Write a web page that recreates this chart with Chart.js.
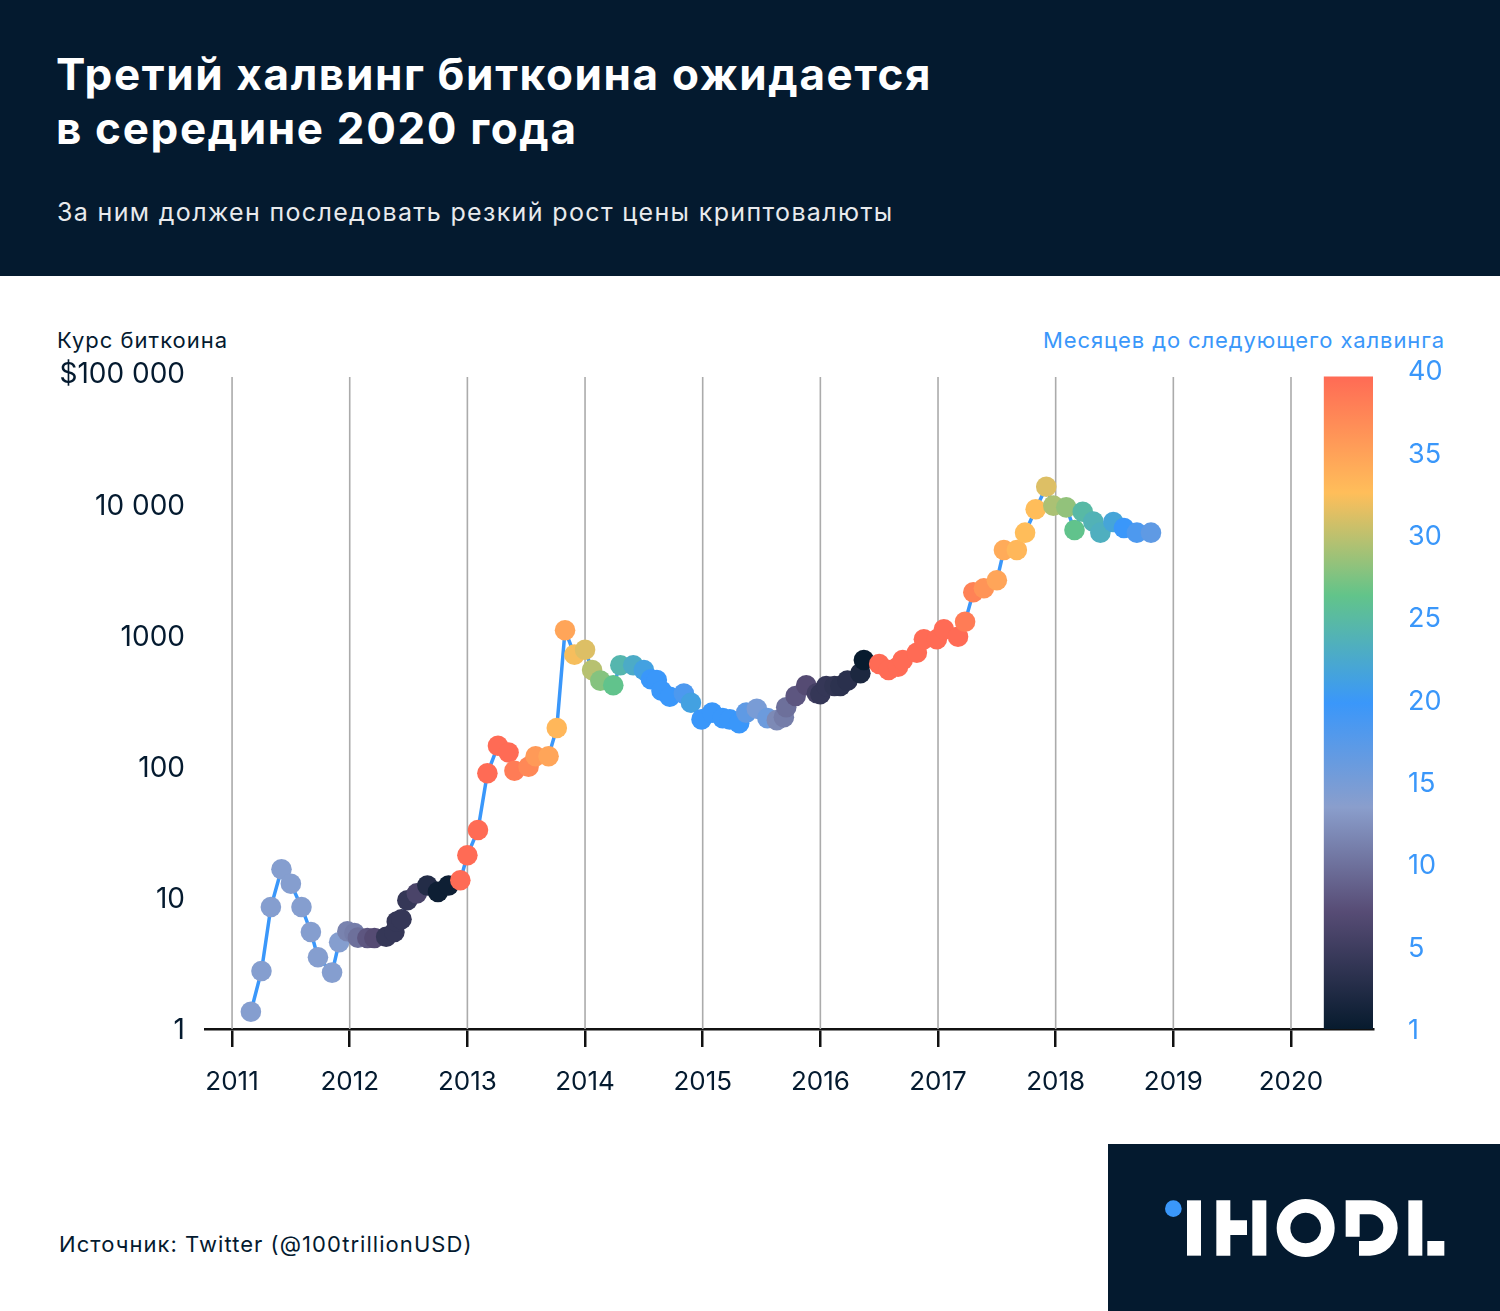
<!DOCTYPE html>
<html lang="ru">
<head>
<meta charset="utf-8">
<title>Третий халвинг биткоина</title>
<script src="https://cdn.jsdelivr.net/npm/chart.js@4"></script>
<style>
    html, body { margin: 0; padding: 0; background: #fff; }
    body { position: relative; width: 1500px; height: 1311px; overflow: hidden; font-family: Inter, sans-serif; }
    .header { position: absolute; left: 0; top: 0; width: 1500px; height: 276px; background: #041a2f; }
    .txt { position: absolute; white-space: nowrap; }
    .title { left: 56px; top: 47px; font-size: 44px; font-weight: 700; line-height: 54px; color: #fff; letter-spacing: 1.65px; }
    .subtitle { left: 57px; top: 197px; font-size: 25px; line-height: 30px; color: #e8eaed; letter-spacing: 1.35px; }
    .axis-left { left: 57px; top: 327px; font-size: 22px; line-height: 26px; color: #041a2f; letter-spacing: 1px; }
    .axis-right { right: 55px; top: 327px; font-size: 22px; line-height: 26px; color: #3a97fa; letter-spacing: 0.9px; }
    .source { left: 59px; top: 1231px; font-size: 22px; line-height: 26px; color: #041a2f; letter-spacing: 1.05px; }
    #chartBox { position: absolute; left: 0; top: 276px; width: 1500px; height: 850px; }
    .logo { position: absolute; left: 1100px; top: 1140px; }
</style>
</head>
<body>
<div class="header"></div>
<div class="txt title">Третий халвинг биткоина ожидается<br>в середине 2020 года</div>
<div class="txt subtitle">За ним должен последовать резкий рост цены криптовалюты</div>
<div class="txt axis-left">Курс биткоина</div>
<div class="txt axis-right">Месяцев до следующего халвинга</div>
<div id="chartBox"><canvas id="halvingChart" width="1500" height="850"></canvas></div>
<div class="txt source">Источник: Twitter (@100trillionUSD)</div>
<svg class="logo" width="400" height="171" viewBox="0 0 1200 513">
    <rect x="24" y="12" width="1176" height="501" fill="#041a2f"/>
    <circle cx="220" cy="206" r="25" fill="#3a97fa"/>
    <g fill="#fff">
        <rect x="261" y="181" width="42" height="166"/>
        <path d="M349 181H391V241H441V285H391V347H349Z"/>
        <rect x="457" y="181" width="42" height="166"/>
        <path fill-rule="evenodd" d="M617 177a87 87 0 1 0 .01 0ZM617 218a46 46 0 1 1 -.01 0Z"/>
        <path d="M737 181H810A83 83 0 0 1 810 347H777V303H810A40 40 0 0 0 810 223H779V290H737Z"/>
        <rect x="925" y="181" width="42" height="166"/>
        <rect x="982" y="303" width="51" height="44"/>
    </g>
</svg>

<script>
// Data
const dates = [
    2011.16, 2011.25, 2011.33, 2011.42, 2011.50, 2011.59, 2011.67, 2011.73, 2011.85, 2011.91,
    2011.98, 2012.04, 2012.07, 2012.15, 2012.21, 2012.31, 2012.38, 2012.40, 2012.44, 2012.49,
    2012.57, 2012.66, 2012.75, 2012.84, 2012.94, 2013.00, 2013.09, 2013.17, 2013.26, 2013.35,
    2013.40, 2013.52, 2013.58, 2013.69, 2013.76, 2013.83, 2013.91, 2014.00, 2014.06, 2014.13,
    2014.24, 2014.30, 2014.41, 2014.50, 2014.56, 2014.61, 2014.65, 2014.72, 2014.84, 2014.90,
    2014.99, 2015.08, 2015.17, 2015.23, 2015.31, 2015.37, 2015.46, 2015.55, 2015.63, 2015.69,
    2015.71, 2015.79, 2015.88, 2015.97, 2016.00, 2016.05, 2016.12, 2016.17, 2016.23, 2016.34,
    2016.37, 2016.50, 2016.58, 2016.66, 2016.70, 2016.82, 2016.88, 2016.99, 2017.05, 2017.17,
    2017.23, 2017.30, 2017.39, 2017.50, 2017.56, 2017.67, 2017.74, 2017.83, 2017.92, 2017.98,
    2018.09, 2018.16, 2018.23, 2018.32, 2018.38, 2018.49, 2018.58, 2018.69, 2018.81
];
const prices = [
    1.355, 2.77, 8.51, 16.5, 12.8, 8.51, 5.49, 3.52, 2.69, 4.58,
    5.56, 5.39, 4.97, 4.94, 4.94, 5.05, 5.49, 6.58, 6.86, 9.57,
    10.8, 12.4, 11.1, 12.4, 13.6, 21.1, 32.9, 88.9, 144, 128,
    93, 99.8, 120, 120, 197, 1094, 713, 778, 545, 452,
    417, 592, 592, 545, 463, 457, 379, 341, 360, 307,
    229, 258, 234, 229, 214, 258, 276, 234, 226, 238,
    283, 345, 417, 362, 357, 411, 411, 411, 452, 514,
    650, 605, 545, 577, 650, 738, 934, 934, 1112, 977,
    1271, 2132, 2286, 2630, 4477, 4477, 6067, 9141, 13600, 9750,
    9462, 6353, 8770, 7362, 6067, 7311, 6592, 6067, 6067
];
const monthsLeft = [
    14, 14, 14, 14, 14, 14, 14, 14, 14, 14,
    11.5, 11, 10, 8, 7, 4.3, 4.3, 4.3, 4.3, 4.3,
    6, 3, 1.5, 1.5, 40, 40, 40, 40, 40, 40,
    38.5, 37.5, 36, 35, 33.5, 35, 32.5, 31.5, 30, 28,
    26.5, 24.5, 23, 21.5, 20, 20, 20, 20, 18.5, 21.5,
    20, 20, 20, 20, 20, 17, 15, 16, 12, 11,
    10, 8, 7, 5.5, 4.3, 4.3, 4, 3.7, 3.5, 2.5,
    1, 40, 40, 40, 40, 40, 40, 40, 40, 40,
    38.5, 38, 36.5, 35, 34.5, 33.5, 33, 33, 31.5, 29.5,
    28.5, 26.5, 25, 24, 23.5, 22, 20, 18.5, 17
];

const yearTicks = [2011, 2012, 2013, 2014, 2015, 2016, 2017, 2018, 2019, 2020];
const priceTicks = [1, 10, 100, 1000, 10000, 100000];
const priceLabels = ['1', '10', '100', '1000', '10 000', '$100 000'];
const monthLabels = ['1', '5', '10', '15', '20', '25', '30', '35', '40'];

// Colour scale of the bar: position from top (0) to bottom (1)
const colorStops = [
    [0, '#ff6b55'],
    [0.178, '#ffbe5a'],
    [0.335, '#62c48a'],
    [0.5, '#3a97fa'],
    [0.66, '#8a9ecc'],
    [0.82, '#574c75'],
    [1, '#071b2e']
];

const barX = 2020.49;
const barTop = 93300;

function monthToPos(m) {
    if (m >= 5) return (40 - m) / 40;
    return 0.875 + (5 - m) / 4 * 0.125;
}

function hexToRgb(hex) {
    return [1, 3, 5].map(i => parseInt(hex.slice(i, i + 2), 16));
}

function monthColor(m) {
    const pos = monthToPos(m);
    for (let i = 1; i < colorStops.length; i++) {
        if (pos <= colorStops[i][0]) {
            const a = colorStops[i - 1];
            const b = colorStops[i];
            const t = (pos - a[0]) / (b[0] - a[0]);
            const ca = hexToRgb(a[1]);
            const cb = hexToRgb(b[1]);
            const mix = ca.map((v, k) => Math.round(v + (cb[k] - v) * t));
            return `rgb(${mix[0]}, ${mix[1]}, ${mix[2]})`;
        }
    }
    return colorStops[colorStops.length - 1][1];
}

function barGradient(context) {
    const chart = context.chart;
    if (!chart.chartArea) return '#3a97fa';
    const y = chart.scales.y;
    const g = chart.ctx.createLinearGradient(0, y.getPixelForValue(barTop), 0, y.getPixelForValue(1));
    colorStops.forEach(s => g.addColorStop(s[0], s[1]));
    return g;
}

// Vertical year lines stop a little below the top of the plot
const yearLines = {
    id: 'yearLines',
    beforeDatasetsDraw(chart) {
        const { ctx, scales } = chart;
        ctx.save();
        ctx.strokeStyle = '#ababab';
        ctx.lineWidth = 1.6;
        yearTicks.forEach(year => {
            const px = scales.x.getPixelForValue(year);
            ctx.beginPath();
            ctx.moveTo(px, scales.y.getPixelForValue(barTop));
            ctx.lineTo(px, scales.y.getPixelForValue(1));
            ctx.stroke();
        });
        ctx.restore();
    }
};

new Chart(document.getElementById('halvingChart'), {
    type: 'line',
    data: {
        datasets: [
            {
                type: 'line',
                order: 0,
                data: dates.map((d, i) => ({ x: d, y: prices[i] })),
                borderColor: '#3a97fa',
                borderWidth: 3.5,
                tension: 0,
                pointRadius: 10.3,
                pointBorderWidth: 0,
                pointBackgroundColor: monthsLeft.map(monthColor)
            },
            {
                type: 'bar',
                order: 1,
                data: [{ x: barX, y: [1, barTop] }],
                barThickness: 49,
                backgroundColor: barGradient,
                yAxisID: 'y'
            }
        ]
    },
    options: {
        responsive: false,
        animation: false,
        maintainAspectRatio: false,
        layout: { padding: { top: 94, left: 0, right: 0, bottom: 0 } },
        plugins: { legend: { display: false }, tooltip: { enabled: false } },
        scales: {
            x: {
                type: 'linear',
                offset: false,
                min: 2010.77,
                max: 2020.697,
                afterBuildTicks: axis => { axis.ticks = yearTicks.map(v => ({ value: v })); },
                afterFit: axis => { axis.height = 97; },
                border: { color: '#111', width: 2.5 },
                grid: { offset: false, drawOnChartArea: false, color: '#111', lineWidth: 2.5, tickLength: 18 },
                ticks: {
                    autoSkip: false,
                    maxRotation: 0,
                    padding: 20,
                    color: '#041a2f',
                    font: { family: 'Inter, sans-serif', size: 26 },
                    callback: value => String(value)
                }
            },
            y: {
                type: 'logarithmic',
                min: 1,
                max: 105400,
                afterBuildTicks: axis => { axis.ticks = priceTicks.map(v => ({ value: v })); },
                afterFit: axis => { axis.width = 205; },
                border: { display: false },
                grid: { display: false, drawTicks: false },
                ticks: {
                    autoSkip: false,
                    padding: 20,
                    labelOffset: 2,
                    color: '#041a2f',
                    font: { family: 'Inter, sans-serif', size: 28 },
                    callback: value => priceLabels[priceTicks.indexOf(value)]
                }
            },
            y2: {
                type: 'linear',
                position: 'right',
                min: 0,
                max: 8,
                afterBuildTicks: axis => { axis.ticks = monthLabels.map((l, i) => ({ value: i })); },
                afterFit: axis => { axis.width = 127; },
                border: { display: false },
                grid: { display: false, drawTicks: false },
                ticks: {
                    autoSkip: false,
                    padding: 35,
                    labelOffset: 2,
                    color: '#3a97fa',
                    font: { family: 'Inter, sans-serif', size: 27 },
                    callback: value => monthLabels[value]
                }
            }
        }
    },
    plugins: [yearLines]
});
</script>
</body>
</html>
